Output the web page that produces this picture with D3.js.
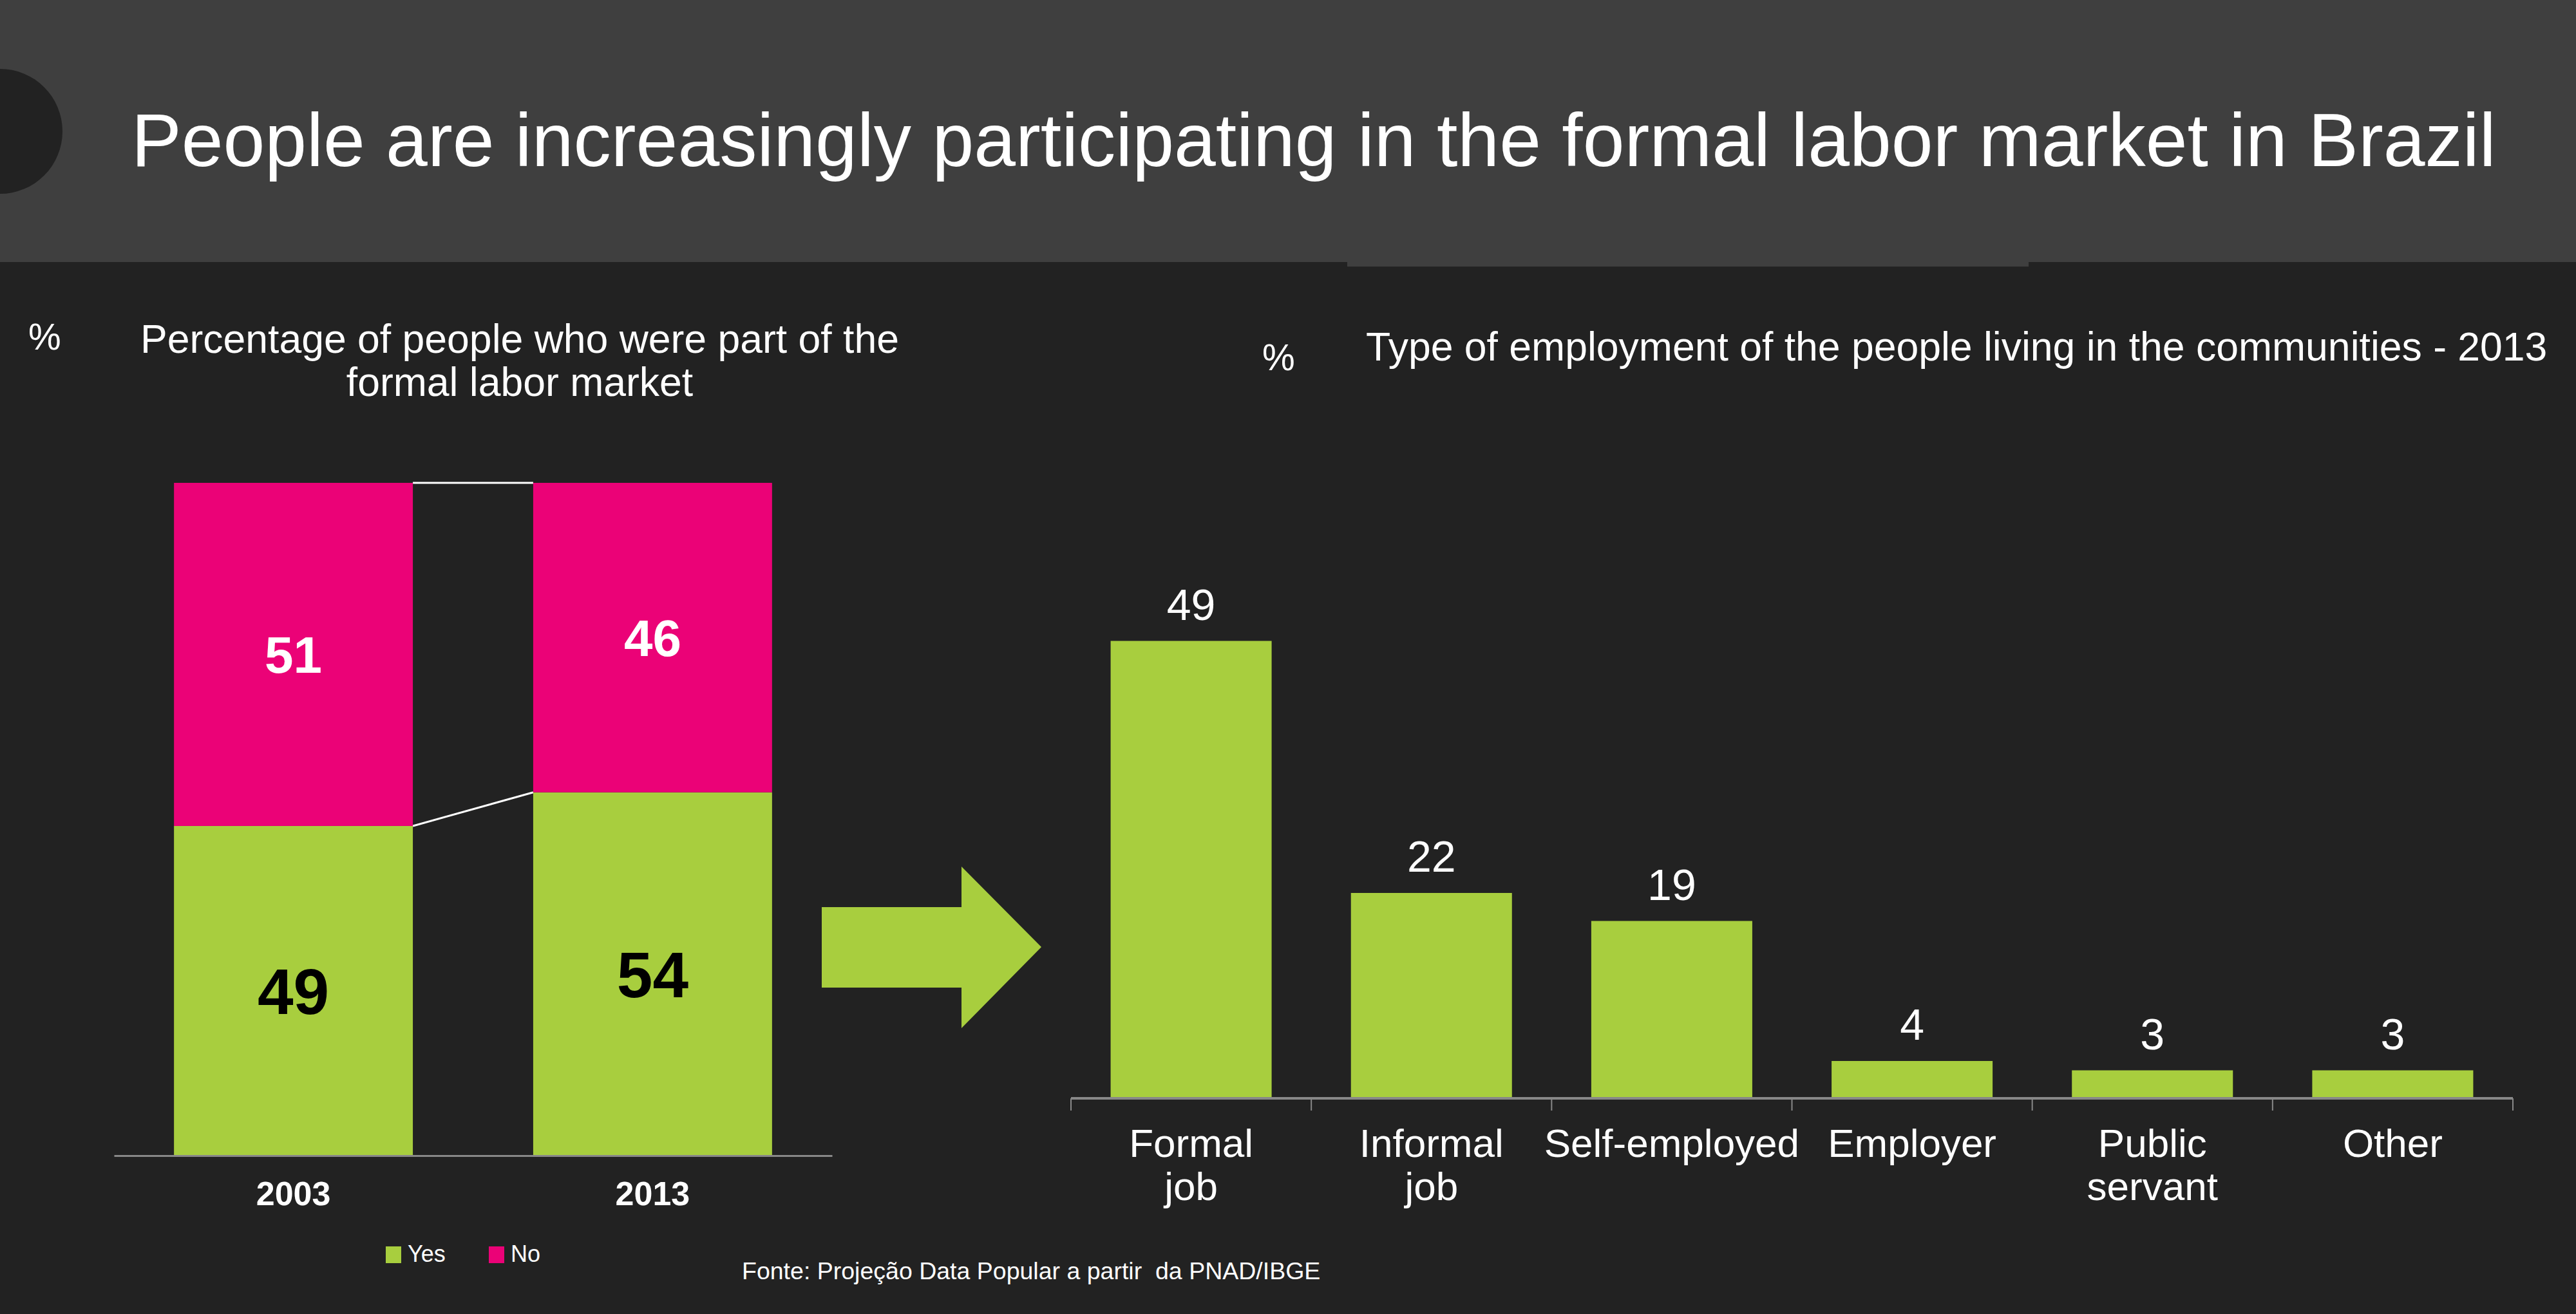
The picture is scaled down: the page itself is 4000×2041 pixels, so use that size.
<!DOCTYPE html>
<html lang="en">
<head>
    <meta charset="UTF-8">
    <title>Formal labor market in Brazil</title>
    <script src="https://d3js.org/d3.v7.min.js"></script>
    <style>
        body { margin: 0; background: #222222; }
        svg text { font-family: "Liberation Sans", Arial, sans-serif; }
    </style>
</head>
<body>
    <div id="chart"></div>

    <script>
        // data
        var years = ["2003", "2013"];
        var yesValues = [49, 54];
        var noValues = [51, 46];
        var legendLabels = ["Yes", "No"];

        var jobTypes = ["Formal job", "Informal job", "Self-employed", "Employer", "Public servant", "Other"];
        var jobLines = [["Formal", "job"], ["Informal", "job"], ["Self-employed"], ["Employer"], ["Public", "servant"], ["Other"]];
        var jobValues = [49, 22, 19, 4, 3, 3];

        var green = "#a8ce3e", pink = "#eb0277";

        var W = 4000, H = 2041;
        var svg = d3.select("#chart").append("svg")
            .attr("width", W)
            .attr("height", H);

        svg.append("rect").attr("width", W).attr("height", H).attr("fill", "#222222");

        // header band
        svg.append("rect").attr("x", 0).attr("y", 0).attr("width", W).attr("height", 407).attr("fill", "#3f3f3f");
        svg.append("rect").attr("x", 2092).attr("y", 407).attr("width", 1058).attr("height", 7).attr("fill", "#3f3f3f");
        svg.append("circle").attr("cx", 0).attr("cy", 204).attr("r", 97).attr("fill", "#222222");

        svg.append("text")
            .attr("x", 204).attr("y", 258)
            .attr("fill", "#fff")
            .style("font-size", "116.5px")
            .text("People are increasingly participating in the formal labor market in Brazil");

        // ---- left chart: stacked bars ----
        svg.append("text").attr("x", 44).attr("y", 543).attr("fill", "#fff")
            .style("font-size", "57px").text("%");
        svg.append("text").attr("x", 807).attr("y", 548).attr("fill", "#fff")
            .attr("text-anchor", "middle").style("font-size", "62.5px")
            .text("Percentage of people who were part of the");
        svg.append("text").attr("x", 807).attr("y", 615).attr("fill", "#fff")
            .attr("text-anchor", "middle").style("font-size", "62.5px")
            .text("formal labor market");

        var xL = d3.scaleBand()
            .domain(years)
            .range([177, 1292])
            .paddingInner(0.335)
            .paddingOuter(0.167);

        var yL = d3.scaleLinear()
            .domain([0, 100])
            .range([1795, 750]);

        var stackRows = years.map(function(y, i) { return {year: y, Yes: yesValues[i], No: noValues[i]}; });
        var series = d3.stack().keys(["Yes", "No"])(stackRows);

        // connector lines between bars
        var conn = svg.append("g").attr("stroke", "#fff").attr("stroke-width", 3);
        series.forEach(function(s) {
            conn.append("line")
                .attr("x1", xL(years[0]) + xL.bandwidth())
                .attr("y1", yL(s[0][1]))
                .attr("x2", xL(years[1]))
                .attr("y2", yL(s[1][1]));
        });

        series.forEach(function(s) {
            var col = s.key === "Yes" ? green : pink;
            svg.append("g").selectAll("rect")
                .data(s)
                .enter().append("rect")
                .attr("x", function(d) { return xL(d.data.year); })
                .attr("y", function(d) { return yL(d[1]); })
                .attr("width", xL.bandwidth())
                .attr("height", function(d) { return yL(d[0]) - yL(d[1]); })
                .attr("fill", col);

            svg.append("g").selectAll("text")
                .data(s)
                .enter().append("text")
                .attr("x", function(d) { return xL(d.data.year) + xL.bandwidth() / 2; })
                .attr("y", function(d) { return (yL(d[0]) + yL(d[1])) / 2; })
                .attr("dy", "0.36em")
                .attr("text-anchor", "middle")
                .attr("fill", s.key === "Yes" ? "#000" : "#fff")
                .style("font-size", s.key === "Yes" ? "100px" : "80px")
                .style("font-weight", "bold")
                .text(function(d) { return d[1] - d[0]; });
        });

        var axL = svg.append("g")
            .attr("transform", "translate(0,1795)")
            .call(d3.axisBottom(xL).tickSize(0).tickPadding(40));
        axL.select(".domain").attr("stroke", "#888").attr("stroke-width", 3);
        axL.selectAll("text")
            .attr("fill", "#fff")
            .style("font-size", "52px")
            .style("font-weight", "bold")
            .style("font-family", "Liberation Sans, Arial, sans-serif");

        // legend
        var legX = [599, 759];
        var leg = svg.append("g").selectAll("g")
            .data(legendLabels)
            .enter().append("g")
            .attr("transform", function(d, i) { return "translate(" + legX[i] + ",1936)"; });
        leg.append("rect")
            .attr("width", 24).attr("height", 26)
            .attr("fill", function(d, i) { return i === 0 ? green : pink; });
        leg.append("text")
            .attr("x", 34).attr("y", 24)
            .attr("fill", "#fff")
            .style("font-size", "36px")
            .text(function(d) { return d; });

        svg.append("text")
            .attr("x", 1152).attr("y", 1987)
            .attr("fill", "#fff")
            .style("font-size", "37.5px")
            .style("white-space", "pre")
            .attr("xml:space", "preserve")
            .text("Fonte: Projeção Data Popular a partir  da PNAD/IBGE");

        // arrow
        svg.append("path")
            .attr("d", "M1276,1409 L1493,1409 L1493,1346 L1617,1471 L1493,1597 L1493,1534 L1276,1534 Z")
            .attr("fill", green);

        // ---- right chart ----
        svg.append("text").attr("x", 1960).attr("y", 575).attr("fill", "#fff")
            .style("font-size", "57px").text("%");
        svg.append("text").attr("x", 2121).attr("y", 560).attr("fill", "#fff")
            .style("font-size", "62.5px")
            .text("Type of employment of the people living in the communities - 2013");

        var xR = d3.scaleBand()
            .domain(jobTypes)
            .range([1663, 3902])
            .paddingInner(0.33)
            .paddingOuter(0.165);

        var yR = d3.scaleLinear()
            .domain([0, 50])
            .range([1706, 981]);

        svg.append("g").selectAll("rect")
            .data(jobValues)
            .enter().append("rect")
            .attr("x", function(d, i) { return xR(jobTypes[i]); })
            .attr("y", function(d) { return yR(d); })
            .attr("width", xR.bandwidth())
            .attr("height", function(d) { return yR(0) - yR(d); })
            .attr("fill", green);

        svg.append("g").selectAll("text")
            .data(jobValues)
            .enter().append("text")
            .attr("x", function(d, i) { return xR(jobTypes[i]) + xR.bandwidth() / 2; })
            .attr("y", function(d) { return yR(d) - 33; })
            .attr("text-anchor", "middle")
            .attr("fill", "#fff")
            .style("font-size", "68px")
            .text(function(d) { return d; });

        // axis line with ticks at the category boundaries
        var axR = svg.append("g").attr("stroke", "#888");
        axR.append("line")
            .attr("x1", xR.range()[0]).attr("x2", xR.range()[1])
            .attr("y1", 1706).attr("y2", 1706)
            .attr("stroke-width", 4);
        axR.selectAll("line.tick")
            .data(d3.range(jobTypes.length + 1))
            .enter().append("line")
            .attr("class", "tick")
            .attr("x1", function(i) { return xR.range()[0] + i * xR.step(); })
            .attr("x2", function(i) { return xR.range()[0] + i * xR.step(); })
            .attr("y1", 1706).attr("y2", 1725)
            .attr("stroke-width", 2);

        var catLabels = svg.append("g").selectAll("text")
            .data(jobLines)
            .enter().append("text")
            .attr("text-anchor", "middle")
            .attr("fill", "#fff")
            .style("font-size", "62px")
            .attr("transform", function(d, i) {
                return "translate(" + (xR(jobTypes[i]) + xR.bandwidth() / 2) + ",1797)";
            });
        catLabels.selectAll("tspan")
            .data(function(d) { return d; })
            .enter().append("tspan")
            .attr("x", 0)
            .attr("y", function(d, j) { return j * 67; })
            .text(function(d) { return d; });
    </script>
</body>
</html>
